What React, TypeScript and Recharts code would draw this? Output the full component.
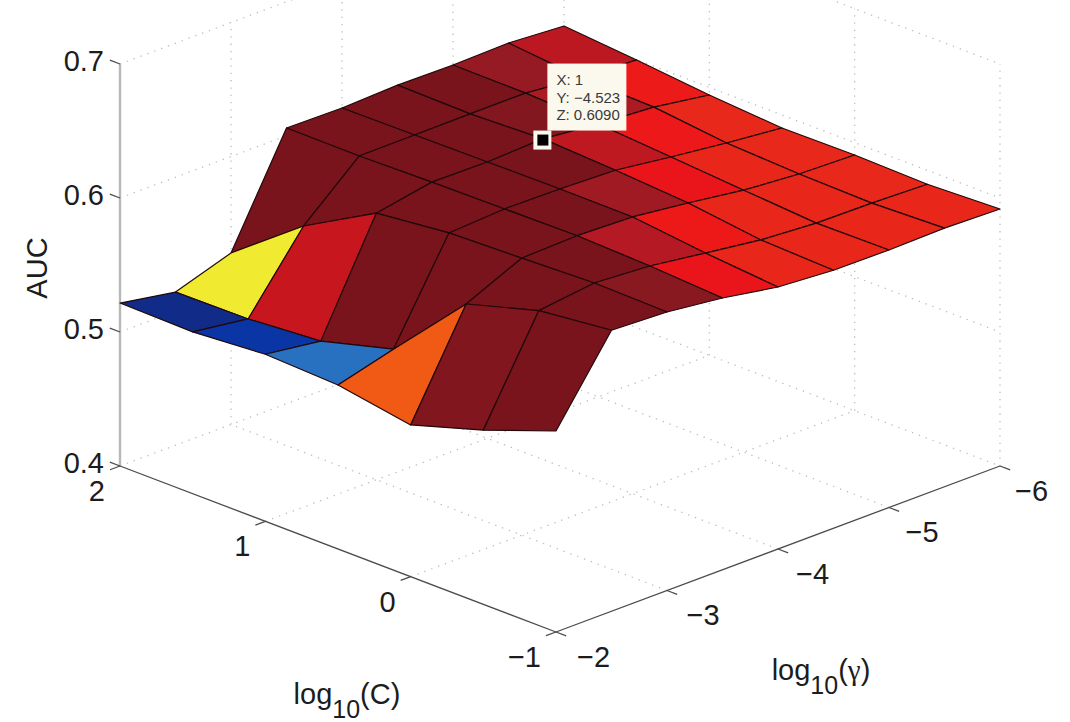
import React from 'react'
import { ScatterChart, Scatter, XAxis, YAxis } from 'recharts'

const WIDTH = 1070
const HEIGHT = 722

// log10(C) rows and log10(gamma) columns of the grid search
const C_VALUES = [2, 1.5, 1, 0.5, 0, -0.5, -1]
const GAMMA_VALUES = [-2, -2.5, -3, -3.5, -4, -4.5, -5, -5.5, -6]

const AUC_ROWS = [
  [0.5216, 0.5143, 0.528, 0.6058, 0.6052, 0.6068, 0.6063, 0.6073, 0.6045],
  [0.5207, 0.5149, 0.5688, 0.6055, 0.6057, 0.606, 0.606, 0.602, 0.5998],
  [0.5247, 0.519, 0.599, 0.6067, 0.6062, 0.608, 0.6036, 0.6007, 0.5943],
  [0.5224, 0.5336, 0.6049, 0.6073, 0.6067, 0.6052, 0.5996, 0.5946, 0.5903],
  [0.5132, 0.588, 0.6067, 0.608, 0.6065, 0.6014, 0.5955, 0.5921, 0.5908],
  [0.53, 0.6037, 0.6088, 0.606, 0.6002, 0.5945, 0.5916, 0.591, 0.5896],
  [0.55, 0.6097, 0.6078, 0.6028, 0.5955, 0.5925, 0.5922, 0.593, 0.5918],
]

const C_TICKS = [2, 1, 0, -1]
const GAMMA_TICKS = [-2, -3, -4, -5, -6]
const AUC_TICKS = [0.4, 0.5, 0.6, 0.7]

const TIP = { c: 1, gamma: -4.523, auc: 0.609 }
const TIP_LINES = ['X: 1', 'Y: \u22124.523', 'Z: 0.6090']

// colormap as it looks in the figure: auc -> rgb
const COLOR_STOPS: [number, number[]][] = [
  [0.513, [20, 40, 122]],
  [0.519, [10, 53, 165]],
  [0.5336, [40, 112, 192]],
  [0.5688, [240, 234, 48]],
  [0.588, [240, 90, 20]],
  [0.5888, [232, 41, 26]],
  [0.593, [232, 38, 26]],
  [0.595, [238, 21, 25]],
  [0.599, [200, 22, 30]],
  [0.6005, [176, 26, 36]],
  [0.6025, [140, 26, 34]],
  [0.6045, [122, 20, 28]],
]

function faceColor(auc: number) {
  if (auc <= COLOR_STOPS[0][0]) return `rgb(${COLOR_STOPS[0][1].join(',')})`
  for (let k = 1; k < COLOR_STOPS.length; k++) {
    const [a1, c1] = COLOR_STOPS[k]
    if (auc <= a1) {
      const [a0, c0] = COLOR_STOPS[k - 1]
      const t = (auc - a0) / (a1 - a0)
      return `rgb(${c0.map((v, n) => Math.round(v + (c1[n] - v) * t)).join(',')})`
    }
  }
  return `rgb(${COLOR_STOPS[COLOR_STOPS.length - 1][1].join(',')})`
}

// orthographic view of the 3D box, screen px
function project(c: number, gamma: number, auc: number) {
  const dc = 2 - c
  const dg = -2 - gamma
  return {
    x: 120 + dc * 145.33 + dg * 111,
    y: 466 + dc * 55.33 - dg * 41.5 - (auc - 0.4) * 1340,
  }
}

const nothing = () => <g />

function Path3D({ id, pts, stroke, width = 1, dash }: {
  id: string
  pts: { x: number; y: number }[]
  stroke: string
  width?: number
  dash?: string
}) {
  return (
    <Scatter
      key={id}
      data={pts}
      isAnimationActive={false}
      shape={nothing}
      line={{ stroke, strokeWidth: width, strokeDasharray: dash }}
      legendType="none"
    />
  )
}

const GRID = { stroke: '#bcbcbc', width: 1.3, dash: '1.3 6' }

function gridLines() {
  const out: React.ReactElement[] = []
  const add = (id: string, pts: { x: number; y: number }[]) =>
    out.push(Path3D({ id, pts, ...GRID }))
  // floor
  C_TICKS.slice(1, 3).forEach(c =>
    add(`floor-c${c}`, [project(c, -2, 0.4), project(c, -6, 0.4)]))
  GAMMA_TICKS.slice(1, 4).forEach(g =>
    add(`floor-g${g}`, [project(-1, g, 0.4), project(2, g, 0.4)]))
  add('floor-back-a', [project(2, -2, 0.4), project(2, -6, 0.4)])
  add('floor-back-b', [project(2, -6, 0.4), project(-1, -6, 0.4)])
  // back walls
  AUC_TICKS.slice(1).forEach(z => {
    add(`wall-a${z}`, [project(2, -2, z), project(2, -6, z)])
    add(`wall-b${z}`, [project(2, -6, z), project(-1, -6, z)])
  })
  GAMMA_TICKS.slice(1).forEach(g =>
    add(`wall-vg${g}`, [project(2, g, 0.4), project(2, g, 0.7)]))
  C_TICKS.slice(1).forEach(c =>
    add(`wall-vc${c}`, [project(c, -6, 0.4), project(c, -6, 0.7)]))
  return out
}

function axisLines() {
  const out: React.ReactElement[] = []
  const dark = { stroke: '#4c4c4c', width: 1.3 }
  out.push(Path3D({ id: 'axis-z', pts: [project(2, -2, 0.4), project(2, -2, 0.7)], stroke: '#b8b8b8', width: 2.4 }))
  out.push(Path3D({ id: 'axis-c', pts: [project(2, -2, 0.4), project(-1, -2, 0.4)], ...dark }))
  out.push(Path3D({ id: 'axis-g', pts: [project(-1, -2, 0.4), project(-1, -6, 0.4)], ...dark }))
  AUC_TICKS.forEach(z =>
    out.push(Path3D({ id: `tick-z${z}`, pts: [project(2, -2, z), project(2.07, -2, z)], ...dark })))
  C_TICKS.forEach(c =>
    out.push(Path3D({ id: `tick-c${c}`, pts: [project(c, -2, 0.4), project(c, -1.91, 0.4)], ...dark })))
  GAMMA_TICKS.forEach(g =>
    out.push(Path3D({ id: `tick-g${g}`, pts: [project(-1, g, 0.4), project(-1.07, g, 0.4)], ...dark })))
  return out
}

// back to front so nearer faces cover farther ones
function surfaceFaces() {
  const out: React.ReactElement[] = []
  for (let i = 0; i < C_VALUES.length - 1; i++) {
    for (let j = GAMMA_VALUES.length - 2; j >= 0; j--) {
      const corner = (a: number, b: number) => project(C_VALUES[a], GAMMA_VALUES[b], AUC_ROWS[a][b])
      const fill = faceColor(AUC_ROWS[i + 1][j + 1])
      out.push(
        <Scatter
          key={`face-${i}-${j}`}
          data={[corner(i, j), corner(i, j + 1), corner(i + 1, j + 1), corner(i + 1, j)]}
          isAnimationActive={false}
          shape={nothing}
          legendType="none"
          line={(p: { points: { x: number; y: number }[] }) => (
            <polygon
              points={p.points.map(q => `${q.x},${q.y}`).join(' ')}
              fill={fill}
              stroke="#22080a"
              strokeWidth={1.2}
              strokeLinejoin="round"
            />
          )}
        />,
      )
    }
  }
  return out
}

const LABEL_FONT = '"Liberation Sans", Arial, sans-serif'
const LABEL_SIZE = 29

function Label({ id, at, text, dx = 0, dy = 0, anchor = 'middle' }: {
  id: string
  at: { x: number; y: number }
  text: string
  dx?: number
  dy?: number
  anchor?: 'start' | 'middle' | 'end'
}) {
  return (
    <Scatter
      key={id}
      data={[at]}
      isAnimationActive={false}
      legendType="none"
      shape={(p: { cx?: number; cy?: number }) => (
        <text x={(p.cx ?? 0) + dx} y={(p.cy ?? 0) + dy} textAnchor={anchor} fontFamily={LABEL_FONT} fontSize={LABEL_SIZE} fill="#1c1c1c">
          {text}
        </text>
      )}
    />
  )
}

function fmt(v: number) {
  return String(v).replace('-', '\u2212')
}

function AxisTitle({ id, at, symbol, serif }: { id: string; at: { x: number; y: number }; symbol: string; serif?: boolean }) {
  return (
    <Scatter
      key={id}
      data={[at]}
      isAnimationActive={false}
      legendType="none"
      shape={(p: { cx?: number; cy?: number }) => (
        <text x={p.cx} y={p.cy} textAnchor="middle" fontFamily={LABEL_FONT} fontSize={LABEL_SIZE} fill="#1c1c1c">
          log
          <tspan dy={14} fontSize={25}>10</tspan>
          <tspan dy={-14}>(</tspan>
          <tspan fontFamily={serif ? '"Liberation Serif", serif' : undefined}>{symbol}</tspan>
          <tspan>)</tspan>
        </text>
      )}
    />
  )
}

function DataTip() {
  const at = project(TIP.c, TIP.gamma, TIP.auc)
  return (
    <Scatter
      key="tip"
      data={[at]}
      isAnimationActive={false}
      legendType="none"
      shape={(p: { cx?: number; cy?: number }) => {
        const cx = p.cx ?? 0
        const cy = p.cy ?? 0
        return (
          <g>
            <rect x={cx - 12} y={cy - 6} width={18} height={19} fill="#fbf9ee" />
            <rect x={cx - 8} y={cy - 2} width={11} height={11} fill="#000" />
            <rect x={cx + 2} y={cy - 73} width={79} height={67} fill="#fbf9ee" />
            {TIP_LINES.map((t, n) => (
              <text key={t} x={cx + 11} y={cy - 51.5 + n * 17.5} fontFamily={LABEL_FONT} fontSize={15} fill="#3a3a3a">
                {t}
              </text>
            ))}
          </g>
        )
      }}
    />
  )
}

export default function App() {
  return (
    <div style={{ position: 'absolute', left: 0, top: 0, width: WIDTH, height: HEIGHT, background: '#fff', overflow: 'hidden' }}>
      <ScatterChart width={WIDTH} height={HEIGHT} margin={{ top: 0, right: 0, bottom: 0, left: 0 }}>
        <XAxis type="number" dataKey="x" domain={[0, WIDTH]} allowDataOverflow hide />
        <YAxis type="number" dataKey="y" domain={[0, HEIGHT]} reversed allowDataOverflow hide />
        {gridLines()}
        {axisLines()}
        {surfaceFaces()}
        {AUC_TICKS.map(z =>
          Label({ id: `lz${z}`, at: project(2, -2, z), text: z.toFixed(1), dx: -16, dy: 7, anchor: 'end' }))}
        {C_TICKS.map(c =>
          Label({ id: `lc${c}`, at: project(c, -2, 0.4), text: fmt(c), dx: -15, dy: 35, anchor: 'end' }))}
        {GAMMA_TICKS.map(g =>
          Label({ id: `lg${g}`, at: project(-1, g, 0.4), text: fmt(g), dx: 21 - (-2 - g) * 1.5, dy: 35, anchor: 'start' }))}
        {AxisTitle({ id: 'title-c', at: { x: 347, y: 704 }, symbol: 'C' })}
        {AxisTitle({ id: 'title-g', at: { x: 821, y: 680 }, symbol: '\u03b3', serif: true })}
        <Scatter
          key="title-z"
          data={[{ x: 47, y: 268 }]}
          isAnimationActive={false}
          legendType="none"
          shape={(p: { cx?: number; cy?: number }) => (
            <text x={p.cx} y={p.cy} transform={`rotate(-90 ${p.cx} ${p.cy})`} textAnchor="middle" fontFamily={LABEL_FONT} fontSize={LABEL_SIZE} fill="#1c1c1c">
              AUC
            </text>
          )}
        />
        {DataTip()}
      </ScatterChart>
    </div>
  )
}
